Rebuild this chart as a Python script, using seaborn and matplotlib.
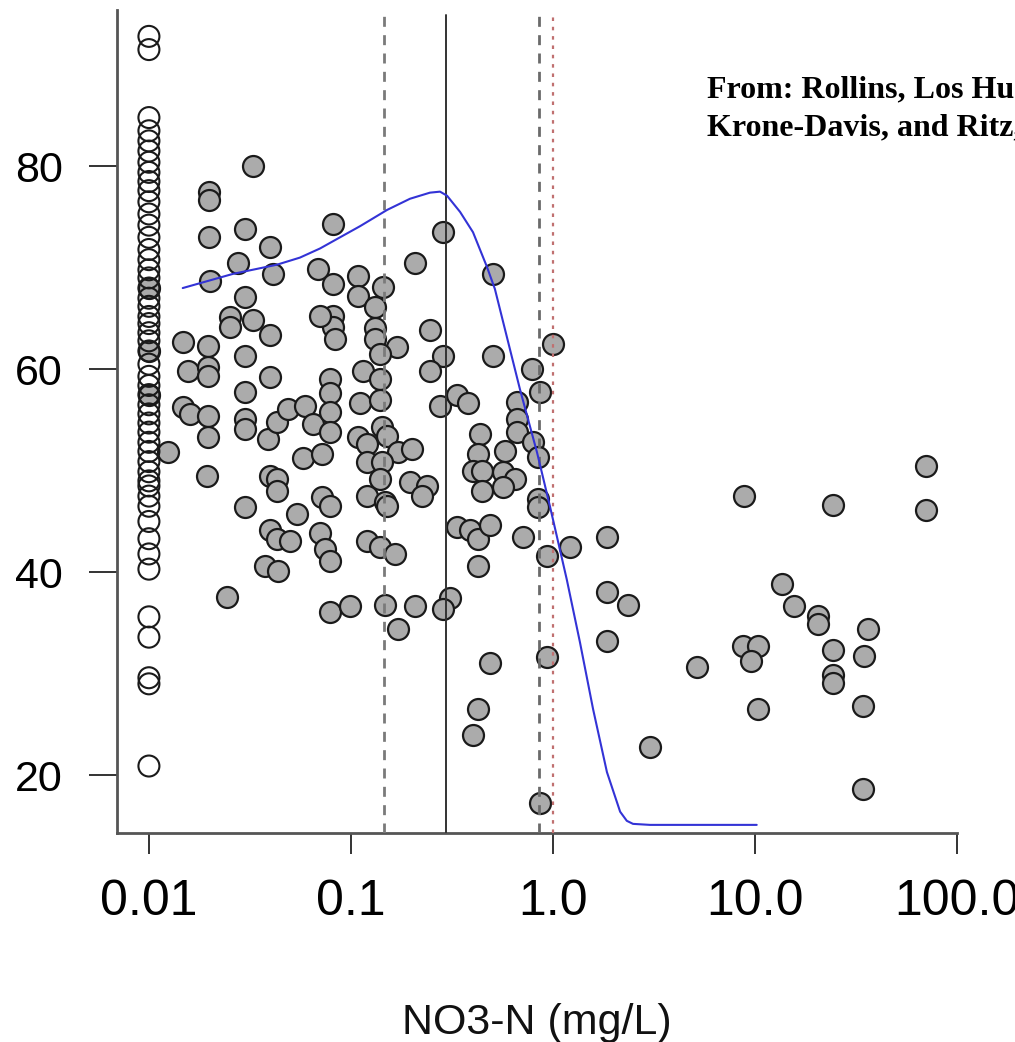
import matplotlib
matplotlib.use("Agg")
import matplotlib.pyplot as plt
import seaborn as sns
import pandas as pd
from matplotlib.ticker import FixedLocator, FixedFormatter, NullLocator

# ---------------- data ----------------
# non-detects plotted at 0.01 mg/L (open circles)
nd_y = [92.8, 91.5, 84.8, 83.5, 82.5, 81.5, 80.4, 79.4, 78.5, 77.6, 76.5, 75.3,
        74.2, 73.0, 71.8, 70.8, 69.8, 69.0, 68.0, 67.0, 66.2, 65.2, 64.5, 63.6,
        62.8, 61.8, 60.5, 59.3, 58.4, 57.5, 56.5, 55.6, 54.7, 53.8, 52.8, 51.9,
        50.9, 49.9, 49.0, 48.5, 47.5, 46.5, 45.0, 43.3, 41.8, 40.3, 35.6, 33.6,
        29.6, 29.0, 20.9]
nd_level = 0.01

# detected samples (filled circles)
det_x = [0.01, 0.01, 0.01,
         0.0200, 0.0299, 0.0252, 0.0252, 0.0327, 0.0397, 0.0147, 0.0196, 0.0299, 0.0156,
         0.0196, 0.0196, 0.0397, 0.0299, 0.0147, 0.0160, 0.0196, 0.0299, 0.0299, 0.0196,
         0.0124, 0.0388, 0.0430, 0.0488, 0.0592, 0.0649, 0.0578, 0.0718, 0.0787, 0.0787,
         0.0787, 0.0787, 0.0815, 0.0815, 0.0833, 0.0703, 0.0194, 0.0397, 0.0430, 0.0430,
         0.0299, 0.0540, 0.0718, 0.0787, 0.0397, 0.0430, 0.0499, 0.0703, 0.0743, 0.0787,
         0.0375, 0.0435, 0.0243, 0.0787, 0.0327, 0.0198, 0.0198, 0.0299, 0.0198, 0.0397,
         0.0815, 0.0276, 0.0411, 0.0687, 0.0815,
         0.108, 0.144, 0.108, 0.207, 0.285, 0.505, 0.131, 0.131, 0.246, 0.131, 0.169,
         0.285, 0.505, 1.0, 0.139, 0.115, 0.246, 0.787, 0.139, 0.863, 0.111, 0.139,
         0.276, 0.335, 0.379, 0.663, 0.663, 0.142, 0.108, 0.120, 0.151, 0.171, 0.200,
         0.120, 0.142, 0.435, 0.425, 0.578, 0.663, 0.796, 0.843, 0.402, 0.445, 0.565,
         0.649, 0.445, 0.565, 0.139, 0.196, 0.238, 0.225, 0.120, 0.147, 0.151, 0.843,
         0.843, 0.120, 0.139, 0.165, 0.335, 0.388, 0.425, 0.488, 0.710, 0.934, 1.21,
         1.85, 0.425, 0.0989, 0.147, 0.171, 0.207, 0.309, 0.285, 0.488, 0.425, 0.402,
         0.934, 0.863, 1.85, 2.35, 1.85, 3.02,
         8.83, 24.3, 70.3, 70.3, 13.6, 15.6, 20.5, 20.5, 24.3, 24.3, 24.3, 36.3, 34.7,
         34.2, 34.2, 8.72, 10.3, 9.55, 5.16, 10.3]
det_y = [68.0, 61.8, 57.5,
         68.7, 67.1, 65.1, 64.2, 64.9, 63.4, 62.7, 62.3, 61.3, 59.8,
         60.2, 59.3, 59.2, 57.8, 56.3, 55.6, 55.4, 55.1, 54.1, 53.3,
         51.8, 53.1, 54.8, 56.1, 56.4, 54.6, 51.3, 51.6, 59.0, 57.7,
         55.8, 53.8, 65.2, 64.2, 63.0, 65.2, 49.5, 49.5, 49.2, 48.0,
         46.4, 45.7, 47.4, 46.5, 44.2, 43.3, 43.1, 43.9, 42.3, 41.1,
         40.6, 40.1, 37.6, 36.1, 80.0, 77.5, 76.7, 73.8, 73.0, 72.0,
         74.3, 70.5, 69.4, 69.9, 68.4,
         69.2, 68.1, 67.2, 70.5, 73.5, 69.4, 66.1, 64.1, 63.9, 63.0, 62.2,
         61.3, 61.3, 62.5, 61.5, 59.8, 59.8, 60.0, 59.0, 57.8, 56.7, 57.0,
         56.4, 57.5, 56.7, 56.8, 55.1, 54.3, 53.3, 52.6, 53.4, 51.8, 52.1,
         50.9, 50.9, 53.6, 51.6, 51.9, 53.8, 52.8, 51.4, 50.0, 50.0, 49.9,
         49.2, 48.0, 48.4, 49.2, 48.9, 48.5, 47.5, 47.5, 46.9, 46.5, 47.2,
         46.4, 43.1, 42.5, 41.8, 44.5, 44.2, 43.3, 44.7, 43.5, 41.6, 42.5,
         43.5, 40.6, 36.7, 36.8, 34.4, 36.7, 37.5, 36.4, 31.1, 26.5, 24.0,
         31.6, 17.3, 38.0, 36.8, 33.2, 22.8,
         47.5, 46.6, 50.5, 46.1, 38.8, 36.7, 35.7, 34.9, 32.3, 29.9, 29.1, 34.4, 31.7,
         26.8, 18.6, 32.7, 32.7, 31.2, 30.7, 26.5]

# fitted curve (blue)
curve_x = [0.0147, 0.0261, 0.0430, 0.0559, 0.0703, 0.0883, 0.111, 0.151, 0.196, 0.246,
           0.276, 0.299, 0.347, 0.402, 0.471, 0.516, 0.687, 0.834, 0.966, 1.17, 1.36,
           1.58, 1.85, 2.15, 2.32, 2.49, 3.02, 10.2]
curve_y = [68.0, 69.4, 70.3, 71.0, 71.9, 73.0, 74.1, 75.7, 76.8, 77.4,
           77.5, 77.1, 75.5, 73.5, 70.1, 67.9, 58.0, 51.8, 46.5, 39.3, 33.1,
           26.5, 20.3, 16.4, 15.5, 15.2, 15.1, 15.1]

# reference lines
ref_x = [0.146, 0.295, 0.853, 1.0]
ref_colors = ["#7a7a7a", "#333333", "#6a6a6a", "#c07070"]
ref_styles = [(0, (3.6, 3.0)), "-", (0, (3.6, 3.0)), (0, (1.6, 2.6))]
ref_widths = [2.0, 1.4, 2.0, 1.6]

x_ticks = [0.01, 0.1, 1.0, 10.0, 100.0]
x_tick_labels = ["0.01", "0.1", "1.0", "10.0", "100.0"]
y_ticks = [20, 40, 60, 80]
x_label = "NO3-N (mg/L)"
source_lines = ["From: Rollins, Los Huertos,", "Krone-Davis, and Ritz,"]

# ---------------- plotting ----------------
sns.set_theme(style="white")
plt.rcParams['font.family'] = ['Liberation Sans', 'DejaVu Sans']

fig = plt.figure(figsize=(10.15, 10.42), dpi=100)
ax = fig.add_axes([117 / 1015, 1 - 833 / 1042, (957 - 117) / 1015, (833 - 10) / 1042])

nd_df = pd.DataFrame({"x": [nd_level] * len(nd_y), "y": nd_y})
det_df = pd.DataFrame({"x": det_x, "y": det_y})
curve_df = pd.DataFrame({"x": curve_x, "y": curve_y})

sns.scatterplot(data=det_df, x="x", y="y", ax=ax, s=228, color="#ababab",
                edgecolor="#1a1a1a", linewidth=1.6, zorder=2)
sns.scatterplot(data=nd_df, x="x", y="y", ax=ax, s=228, facecolor="none",
                edgecolor="#1a1a1a", linewidth=1.5, zorder=3)

for xv, c, ls, lw in zip(ref_x, ref_colors, ref_styles, ref_widths):
    ax.axvline(xv, ymin=0, ymax=0.994, color=c, linestyle=ls, linewidth=lw, zorder=4)

sns.lineplot(data=curve_df, x="x", y="y", ax=ax, sort=False, estimator=None,
             color="#3333d6", linewidth=1.5, zorder=5)

ax.set_xscale("log")
ax.set_xlim(0.00695, 100)
ax.set_ylim(14.3, 95.4)

ax.xaxis.set_major_locator(FixedLocator(x_ticks))
ax.xaxis.set_major_formatter(FixedFormatter(x_tick_labels))
ax.xaxis.set_minor_locator(NullLocator())
ax.yaxis.set_major_locator(FixedLocator(y_ticks))

for side in ["top", "right"]:
    ax.spines[side].set_visible(False)
for side in ["left", "bottom"]:
    ax.spines[side].set_color("#555555")
    ax.spines[side].set_linewidth(2.0)

ax.tick_params(axis="y", which="major", direction="out", length=20, width=1.4,
               color="#333333", pad=19, labelsize=31, labelcolor="black", left=True)
ax.tick_params(axis="x", which="major", direction="out", length=15, width=1.4,
               color="#333333", pad=18, labelsize=36, labelcolor="black", bottom=True)

ax.set_xlabel(x_label, fontsize=31, color="#111111")
ax.xaxis.set_label_coords(0.5, -0.207)
ax.set_ylabel("")

fig.text(707 / 1015, 1 - 97 / 1042, source_lines[0], family="Liberation Serif",
         fontweight="bold", fontsize=23, va="baseline", ha="left", color="black")
fig.text(707 / 1015, 1 - 135 / 1042, source_lines[1], family="Liberation Serif",
         fontweight="bold", fontsize=23, va="baseline", ha="left", color="black")

fig.savefig("out.png", dpi=100, facecolor="white")
